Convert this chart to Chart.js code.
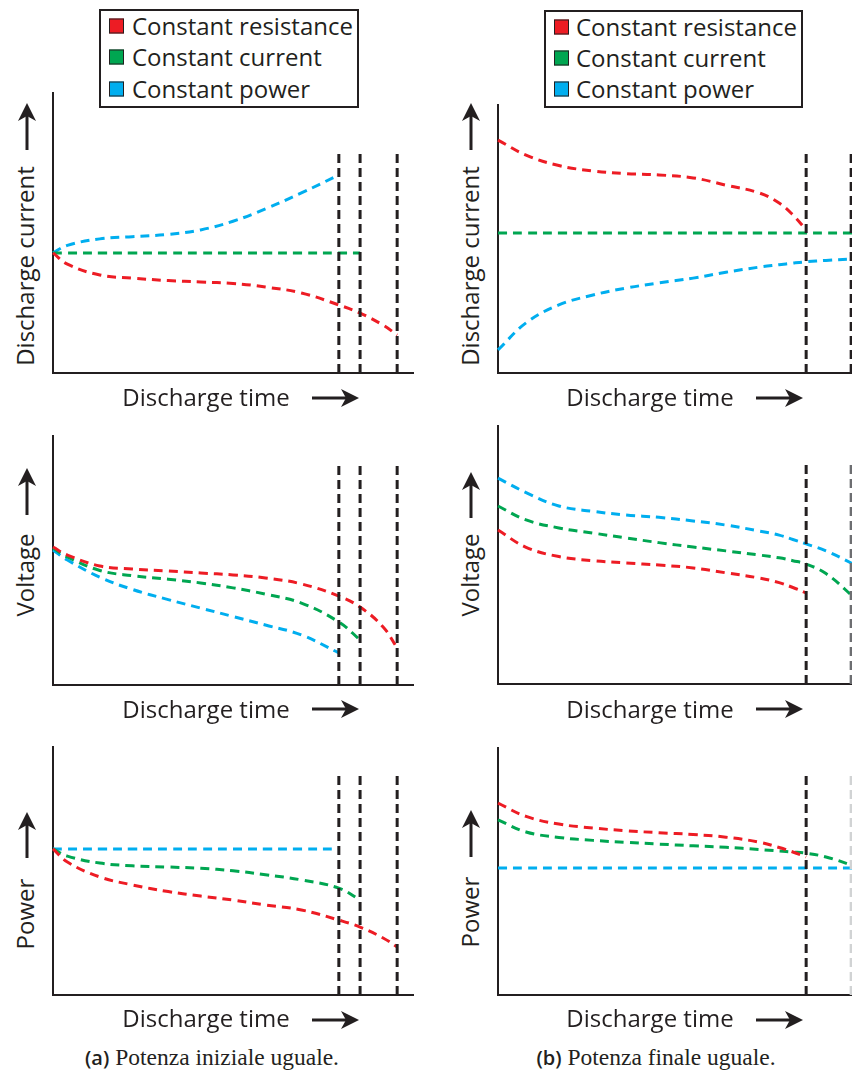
<!DOCTYPE html>
<html><head><meta charset="utf-8">
<script src="https://cdn.jsdelivr.net/npm/chart.js@4.4.1/dist/chart.umd.min.js"></script>
<style>
html,body{margin:0;padding:0;background:#fff;}
#page{position:relative;width:852px;height:1075px;overflow:hidden;font-family:"Open Sans",sans-serif;color:#231f20;background:#fff;}
canvas.cv{position:absolute;}
.lbl{position:absolute;font-size:24px;line-height:1;white-space:nowrap;}
.ylbl{transform:translate(-50%,-50%) rotate(-90deg);}
.xlbl{transform:translate(-50%,-50%);}
.legend{position:absolute;border:2px solid #231f20;box-sizing:border-box;background:#fff;}
.lrow{position:absolute;font-size:24px;line-height:1;white-space:nowrap;transform:translateY(-50%);}
.sw{position:absolute;width:15px;height:15px;box-sizing:border-box;border:1px solid #231f20;transform:translateY(-50%);}
.cap{position:absolute;transform:translate(-50%,-50%);white-space:nowrap;font-family:"Liberation Serif",serif;font-size:23.5px;line-height:1;}
.cap b{font-family:"Open Sans",sans-serif;font-weight:600;font-size:20px;}
svg#arrows{position:absolute;left:0;top:0;}
</style></head>
<body><div id="page"><svg id="arrows" width="852" height="1075"></svg></div>
<script>
// ---------- DATA ----------
const SERIES_NAMES = ["Constant resistance", "Constant current", "Constant power"];
const SERIES_COLORS = ["#ed1c24", "#00a651", "#00aeef"];
const X_LABEL = "Discharge time";
const Y_LABELS = ["Discharge current", "Voltage", "Power"];
const CAPTIONS = [["(a)", "Potenza iniziale uguale."], ["(b)", "Potenza finale uguale."]];

// (a) equal initial power — discharge time (0..100) and values (0..100 of axis height)
const TIME_A = [0, 4, 13, 22, 32, 41, 50, 59, 69, 79.4, 85.3, 91.7, 95.6];
const A_CUR_RES = [42.9, 38.9, 35.0, 33.9, 33.0, 32.5, 32.0, 30.7, 28.6, 24.3, 21.4, 17.1, 13.6];
const A_CUR_CUR = [42.9, 42.9, 42.9, 42.9, 42.9, 42.9, 42.9, 42.9, 42.9, 42.9, 42.9, null, null];
const A_CUR_POW = [42.9, 45.6, 47.9, 48.7, 49.5, 51.1, 54.2, 58.6, 64.3, 70.7, null, null, null];
const A_VOL_RES = [55.4, 52.2, 47.8, 46.6, 45.8, 45.0, 44.2, 43.0, 40.6, 35.7, 31.3, 23.3, 14.9];
const A_VOL_CUR = [55.0, 51.4, 46.0, 43.9, 42.5, 41.0, 39.0, 36.5, 32.9, 25.3, 18.1, null, null];
const A_VOL_POW = [54.2, 50.2, 43.3, 38.4, 34.3, 30.9, 27.5, 24.1, 20.1, 12.9, null, null, null];
const A_POW_RES = [58.9, 53.6, 47.6, 44.4, 41.7, 39.9, 38.3, 36.3, 34.3, 30.2, 27.4, 23.0, 19.4];
const A_POW_CUR = [58.9, 56.0, 53.2, 52.1, 51.6, 51.1, 50.1, 48.5, 46.4, 43.1, 38.3, null, null];
const A_POW_POW = [58.9, 58.9, 58.9, 58.9, 58.9, 58.9, 58.9, 58.9, 58.9, 58.9, null, null, null];
const A_END_TIMES = [79.4, 85.3, 95.6];

// (b) equal final power
const TIME_B = [0, 7.8, 16.9, 26.4, 35.6, 44.7, 54.2, 63.3, 72.5, 78.1, 81.9, 85.6, 91.1, 98.1, 100];
const B_CUR_RES = [86.9, 81.3, 77.4, 75.4, 74.4, 73.9, 72.8, 70.1, 67.2, 63.4, 59.0, 53.4, null, null, null];
const B_CUR_CUR = [52.2, 52.2, 52.2, 52.2, 52.2, 52.2, 52.2, 52.2, 52.2, 52.2, 52.2, 52.2, 52.2, 52.2, 52.2];
const B_CUR_POW = [8.6, 18.7, 25.4, 29.1, 31.7, 33.6, 35.4, 37.6, 39.5, 40.4, 41.0, 41.5, 42.0, 42.5, 42.6];
const B_VOL_RES = [59.7, 53.0, 49.4, 47.8, 46.9, 46.1, 45.0, 43.1, 41.1, 39.3, 37.4, 35.3, null, null, null];
const B_VOL_CUR = [69.0, 63.6, 60.5, 58.5, 56.6, 54.8, 53.1, 51.6, 50.0, 48.9, 47.8, 46.5, 42.8, 34.5, 31.6];
const B_VOL_POW = [79.8, 74.2, 69.0, 66.9, 65.5, 64.6, 63.2, 61.6, 59.3, 57.7, 56.0, 54.3, 51.6, 46.9, 45.3];
const B_POW_RES = [77.7, 72.3, 69.2, 67.6, 66.5, 65.7, 65.0, 63.9, 61.9, 59.7, 57.9, 55.9, null, null, null];
const B_POW_CUR = [70.9, 66.0, 63.8, 62.6, 61.8, 61.1, 60.4, 59.8, 58.9, 58.3, 57.9, 57.4, 55.9, 52.6, 51.4];
const B_POW_POW = [51.4, 51.4, 51.4, 51.4, 51.4, 51.4, 51.4, 51.4, 51.4, 51.4, 51.4, 51.4, 51.4, 51.4, 51.4];
const B_END_TIMES = [85.6, 98.1];

// top of the end-of-discharge markers (0..100 of axis height)
const MARKER_TOPS = [[78.9, 89.2, 89.5], [82.1, 85.7, 89.9]];

// ---------- LAYOUT (styles only) ----------
const INK = "#231f20";
const PAD = 12;
const COL = [{left: 53}, {left: 498}];
const AREA_W = 360;
const ROWS = [[{top: 93, bottom: 373}, {top: 436, bottom: 685}, {top: 747, bottom: 995}],
              [{top: 105, bottom: 373}, {top: 426, bottom: 684}, {top: 748, bottom: 995}]];
const MARKER_COLORS = [[[INK, INK, INK], [INK, INK, INK], [INK, INK, INK]],
                       [[INK, INK], [INK, "#6d6e71"], [INK, "#d1d3d4"]]];

const page = document.getElementById('page');

function seriesPoints(times, vals) {
  const pts = [];
  times.forEach((t, i) => { if (vals[i] !== null) pts.push({x: t, y: vals[i]}); });
  return pts;
}

function makePanel(col, row, times, vals, ends) {
  const g = ROWS[col][row];
  const left = COL[col].left, top = g.top, h = g.bottom - g.top;
  const cv = document.createElement('canvas');
  cv.className = 'cv';
  cv.width = AREA_W + 2 * PAD; cv.height = h + 2 * PAD;
  cv.style.left = (left - PAD) + 'px'; cv.style.top = (top - PAD) + 'px';
  page.appendChild(cv);
  const datasets = [];
  ends.forEach((t, k) => {
    datasets.push({data: [{x: t, y: 0}, {x: t, y: MARKER_TOPS[col][row]}],
      borderColor: MARKER_COLORS[col][row][k], borderWidth: 3, borderDash: [9, 5], clip: false});
  });
  vals.forEach((v, k) => {
    datasets.push({label: SERIES_NAMES[k], data: seriesPoints(times, v),
      borderColor: SERIES_COLORS[k], borderWidth: 3, borderDash: [9, 6],
      tension: 0.4, clip: false});
  });
  const axis = (isX) => ({type: 'linear', min: 0, max: 100,
    ticks: {display: false}, grid: {display: false, drawTicks: false},
    border: {display: true, color: INK, width: 2},
    afterFit: s => { if (isX) s.height = 0; else s.width = 0; }});
  new Chart(cv, {type: 'line', data: {datasets},
    options: {responsive: false, animation: false, devicePixelRatio: 1, events: [],
      layout: {padding: PAD},
      plugins: {legend: {display: false}, tooltip: {enabled: false}},
      elements: {point: {radius: 0}},
      scales: {x: axis(true), y: axis(false)}}});
}

makePanel(0, 0, TIME_A, [A_CUR_RES, A_CUR_CUR, A_CUR_POW], A_END_TIMES);
makePanel(0, 1, TIME_A, [A_VOL_RES, A_VOL_CUR, A_VOL_POW], A_END_TIMES);
makePanel(0, 2, TIME_A, [A_POW_RES, A_POW_CUR, A_POW_POW], A_END_TIMES);
makePanel(1, 0, TIME_B, [B_CUR_RES, B_CUR_CUR, B_CUR_POW], B_END_TIMES);
makePanel(1, 1, TIME_B, [B_VOL_RES, B_VOL_CUR, B_VOL_POW], B_END_TIMES);
makePanel(1, 2, TIME_B, [B_POW_RES, B_POW_CUR, B_POW_POW], B_END_TIMES);

// ---------- TEXT ----------
function addDiv(cls, text, x, y) {
  const d = document.createElement('div');
  d.className = cls; d.textContent = text;
  d.style.left = x + 'px'; d.style.top = y + 'px';
  page.appendChild(d); return d;
}
const XLAB = [{x: 206, ys: [397, 709, 1018]}, {x: 650, ys: [397, 709, 1018]}];
const YLAB = [{x: 25, ys: [266, 575, 914]}, {x: 470, ys: [266, 575, 912]}];
for (let c = 0; c < 2; c++) for (let r = 0; r < 3; r++) {
  addDiv('lbl xlbl', X_LABEL, XLAB[c].x, XLAB[c].ys[r]);
  addDiv('lbl ylbl', Y_LABELS[r], YLAB[c].x, YLAB[c].ys[r]);
}

// legends
const LEG = [{left: 99, top: 9, w: 260, h: 99, rows: [26, 57, 89], sw: 109, tx: 132},
             {left: 544, top: 10, w: 259, h: 98, rows: [27, 58, 89], sw: 554, tx: 576}];
LEG.forEach(L => {
  const box = document.createElement('div');
  box.className = 'legend';
  Object.assign(box.style, {left: L.left + 'px', top: L.top + 'px', width: L.w + 'px', height: L.h + 'px'});
  page.appendChild(box);
  SERIES_NAMES.forEach((n, k) => {
    const s = document.createElement('div');
    s.className = 'sw';
    Object.assign(s.style, {left: L.sw + 'px', top: L.rows[k] + 'px', background: SERIES_COLORS[k]});
    page.appendChild(s);
    addDiv('lrow', n, L.tx, L.rows[k]);
  });
});

// captions
[[212, 1058], [656, 1058]].forEach((p, i) => {
  const d = document.createElement('div');
  d.className = 'cap';
  const b = document.createElement('b'); b.textContent = CAPTIONS[i][0];
  d.appendChild(b);
  d.appendChild(document.createTextNode(' ' + CAPTIONS[i][1]));
  d.style.left = p[0] + 'px'; d.style.top = p[1] + 'px';
  page.appendChild(d);
});

// arrows
const svg = document.getElementById('arrows');
const NS = 'http://www.w3.org/2000/svg';
function arrow(x1, y1, x2, y2) {
  const dx = x2 - x1, dy = y2 - y1, L = Math.hypot(dx, dy), ux = dx / L, uy = dy / L;
  const px = -uy, py = ux, hl = 18, hw = 9, notch = 13;
  const ln = document.createElementNS(NS, 'line');
  ln.setAttribute('x1', x1); ln.setAttribute('y1', y1);
  ln.setAttribute('x2', x2 - ux * notch); ln.setAttribute('y2', y2 - uy * notch);
  ln.setAttribute('stroke', INK); ln.setAttribute('stroke-width', 3);
  svg.appendChild(ln);
  const pg = document.createElementNS(NS, 'polygon');
  const pts = [[x2, y2], [x2 - ux * hl + px * hw, y2 - uy * hl + py * hw],
               [x2 - ux * notch, y2 - uy * notch], [x2 - ux * hl - px * hw, y2 - uy * hl - py * hw]];
  pg.setAttribute('points', pts.map(p => p.join(',')).join(' '));
  pg.setAttribute('fill', INK);
  svg.appendChild(pg);
}
[[312, 359, 398], [312, 359, 709], [312, 359, 1020], [756, 803, 398], [756, 803, 709], [756, 803, 1020]]
  .forEach(a => arrow(a[0], a[2], a[1], a[2]));
[[27, 150, 103], [27, 515, 468], [27, 858, 812], [471, 150, 103], [471, 518, 472], [471, 857, 810]]
  .forEach(a => arrow(a[0], a[1], a[0], a[2]));
page.appendChild(svg);
</script></body></html>
